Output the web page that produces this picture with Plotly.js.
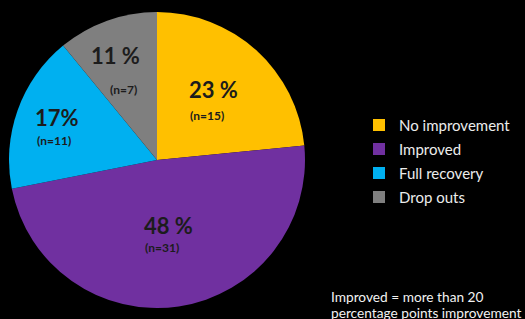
<!DOCTYPE html>
<html>
<head>
<meta charset="utf-8">
<script src="https://cdn.plot.ly/plotly-3.0.1.min.js"></script>
<style>html,body{margin:0;padding:0;background:#000;}#chart{width:525px;height:319px;}</style>
</head>
<body>
<div id="chart"></div>
<script>
var categories = ["No improvement", "Improved", "Full recovery", "Drop outs"];
var counts = [15, 31, 11, 7];
var percentLabels = ["23 %", "48 %", "17%", "11 %"];
var colors = ["#FFC000", "#7030A0", "#00B0F0", "#7F7F7F"];
var noteLines = ["Improved = more than 20", "percentage points improvement"];

// label placement in pixels: [pctX, pctY, nX, nY]
var labelPos = [[213, 90, 207, 115], [168, 225, 162, 248], [57, 117, 54, 140], [115, 55, 123, 90]];
var W = 525, H = 319;
var FONT = "Lato, Carlito, sans-serif";
var annotations = [];
for (var i = 0; i < categories.length; i++) {
  var p = labelPos[i];
  annotations.push({x: p[0] / W, y: 1 - p[1] / H, xref: "paper", yref: "paper", xanchor: "center", yanchor: "middle",
    showarrow: false, text: "<b>" + percentLabels[i] + "</b>", font: {family: FONT, size: 22, color: "#1c1c1c"}});
  annotations.push({x: p[2] / W, y: 1 - p[3] / H, xref: "paper", yref: "paper", xanchor: "center", yanchor: "middle",
    showarrow: false, text: "<b>(n=" + counts[i] + ")</b>", font: {family: FONT, size: 12, color: "#1c1c1c"}});
}
var noteY = [296, 312];
for (var j = 0; j < noteLines.length; j++) {
  annotations.push({x: 329 / W, y: 1 - noteY[j] / H, xref: "paper", yref: "paper", xanchor: "left", yanchor: "middle",
    align: "left", showarrow: false, text: noteLines[j],
    font: {family: FONT, size: 13.7, color: "#f2f2f2"}});
}

var legendNames = categories.map(function (c) { return '<span style="font-size:15px">' + c + '</span>'; });

var data = [{
  type: "pie",
  labels: legendNames,
  values: counts,
  sort: false,
  direction: "clockwise",
  rotation: 0,
  marker: {colors: colors, line: {width: 0}},
  textinfo: "none",
  hoverinfo: "none",
  domain: {x: [9 / W, 305 / W], y: [11 / H, 307 / H]}
}];

var layout = {
  width: W, height: H,
  paper_bgcolor: "#000", plot_bgcolor: "#000",
  margin: {l: 0, r: 0, t: 0, b: 0},
  showlegend: true,
  legend: {x: 359 / W, y: 1 - 108 / H, xanchor: "left", yanchor: "top",
    font: {family: FONT, size: 16.15, color: "#ececec"},
    bgcolor: "rgba(0,0,0,0)", itemwidth: 30, tracegroupgap: 0},
  annotations: annotations
};

Plotly.newPlot("chart", data, layout, {displayModeBar: false, staticPlot: true});
</script>
</body>
</html>
